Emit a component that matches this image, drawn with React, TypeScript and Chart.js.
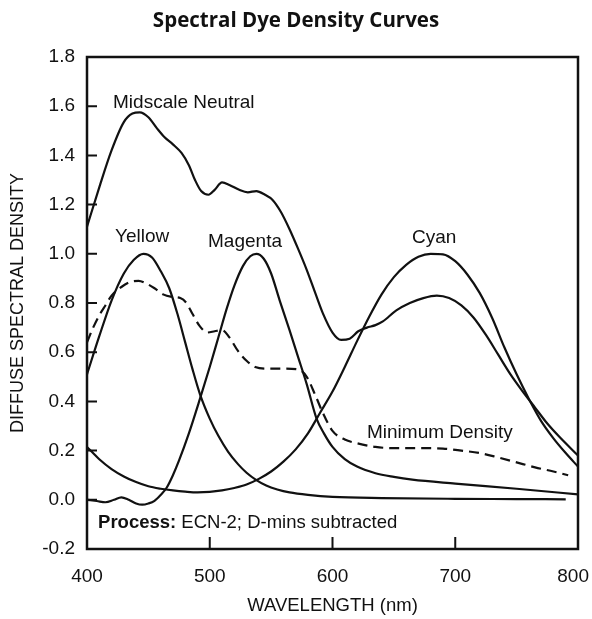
import React, { useEffect, useRef } from "react";
import { Chart, registerables } from "chart.js";

Chart.register(...registerables);

// ---- Data (wavelength in nm, diffuse spectral density) ----
const neutralNm = [400, 410, 420, 430, 437, 443, 450, 457, 463, 470, 477, 483, 488, 493, 499, 504, 510, 516, 524, 531, 538, 545, 551, 558, 565, 572, 579, 586, 592, 600, 607, 614, 621, 628, 635, 641, 652, 663, 674, 685, 695, 705, 715, 725, 735, 745, 755, 765, 775, 785, 800];
const neutralD = [1.11, 1.27, 1.42, 1.535, 1.57, 1.575, 1.555, 1.51, 1.475, 1.445, 1.41, 1.36, 1.3, 1.255, 1.24, 1.26, 1.29, 1.28, 1.26, 1.25, 1.255, 1.24, 1.22, 1.17, 1.1, 1.02, 0.935, 0.84, 0.76, 0.68, 0.65, 0.655, 0.685, 0.7, 0.71, 0.725, 0.77, 0.8, 0.82, 0.83, 0.82, 0.79, 0.74, 0.67, 0.59, 0.51, 0.44, 0.375, 0.31, 0.255, 0.18];

const yellowNm = [400, 410, 420, 430, 438, 446, 453, 460, 467, 474, 480, 486, 492, 500, 507, 515, 523, 530, 538, 546, 555, 565, 580, 600, 640, 700, 750, 790];
const yellowD = [0.51, 0.665, 0.81, 0.92, 0.975, 1.0, 0.985, 0.93, 0.86, 0.75, 0.64, 0.53, 0.43, 0.33, 0.26, 0.195, 0.145, 0.11, 0.08, 0.058, 0.042, 0.03, 0.02, 0.012, 0.007, 0.004, 0.003, 0.002];

const magentaNm = [400, 408, 415, 422, 428, 434, 440, 445, 450, 455, 460, 465, 470, 475, 483, 492, 500, 507, 514, 520, 527, 533, 538, 544, 550, 557, 565, 572, 579, 587, 593, 600, 610, 620, 635, 650, 665, 700, 750, 800];
const magentaD = [0.0, -0.005, -0.01, 0.0, 0.01, 0.0, -0.015, -0.02, -0.015, -0.004, 0.02, 0.05, 0.1, 0.16, 0.27, 0.41, 0.54, 0.66, 0.78, 0.87, 0.95, 0.99, 1.0, 0.98, 0.92, 0.81, 0.69, 0.58, 0.47, 0.33, 0.27, 0.215, 0.165, 0.135, 0.108, 0.093, 0.082, 0.066, 0.045, 0.022];

const cyanNm = [400, 410, 420, 430, 440, 450, 460, 470, 480, 490, 500, 510, 520, 530, 540, 550, 560, 570, 580, 590, 600, 610, 620, 630, 640, 650, 660, 670, 680, 690, 700, 710, 720, 730, 740, 750, 760, 770, 780, 790, 800];
const cyanD = [0.215, 0.165, 0.125, 0.095, 0.072, 0.055, 0.045, 0.038, 0.033, 0.03, 0.032, 0.038, 0.048, 0.062, 0.085, 0.115, 0.155, 0.205, 0.27, 0.355, 0.44, 0.54, 0.645, 0.745, 0.835, 0.905, 0.955, 0.988, 1.0, 0.998, 0.97, 0.915, 0.84, 0.74, 0.62, 0.51, 0.41, 0.32, 0.25, 0.19, 0.135];

const minDensityNm = [400, 405, 410, 415, 420, 428, 435, 442, 448, 455, 462, 469, 476, 481, 486, 492, 498, 504, 510, 516, 523, 530, 537, 548, 560, 572, 579, 586, 592, 600, 610, 620, 635, 650, 670, 690, 705, 720, 735, 750, 765, 780, 792];
const minDensityD = [0.64, 0.7, 0.75, 0.79, 0.83, 0.865, 0.885, 0.89, 0.88, 0.86, 0.835, 0.825, 0.82, 0.8, 0.755, 0.705, 0.68, 0.685, 0.69, 0.66, 0.605, 0.565, 0.54, 0.533, 0.533, 0.53, 0.5, 0.425, 0.355, 0.28, 0.245, 0.23, 0.215, 0.21, 0.21, 0.208, 0.2, 0.19, 0.172, 0.152, 0.132, 0.115, 0.1];

const xTickValues = [400, 500, 600, 700, 800];
const yTickValues = [-0.2, 0, 0.2, 0.4, 0.6, 0.8, 1.0, 1.2, 1.4, 1.6, 1.8];
const xInnerTicks = [500, 600, 700];
const yInnerTicks = [0, 0.2, 0.4, 0.6, 0.8, 1.0, 1.2, 1.4, 1.6];

const chartTitle = "Spectral Dye Density Curves";
const xTitle = "WAVELENGTH (nm)";
const yTitle = "DIFFUSE SPECTRAL DENSITY";

// Curve labels anchored in data coordinates (left edge, baseline)
const curveLabels = [
  { text: "Midscale Neutral", nm: 421.2, d: 1.593 },
  { text: "Yellow", nm: 422.8, d: 1.049 },
  { text: "Magenta", nm: 498.6, d: 1.027 },
  { text: "Cyan", nm: 664.8, d: 1.043 },
  { text: "Minimum Density", nm: 628.1, d: 0.251 },
];
const noteBold = "Process:";
const noteText = " ECN-2; D-mins subtracted";
const noteAnchor = { nm: 409, d: -0.114 };

const SANS = '"Liberation Sans", Arial, Helvetica, sans-serif';
const INK = "#111111";

function pts(xs: number[], ys: number[]) {
  return xs.map((x, i) => ({ x, y: ys[i] }));
}

const framePlugin = {
  id: "frameAndNotes",
  afterDatasetsDraw(chart: any) {
    const { ctx, chartArea } = chart;
    const xs = chart.scales.x;
    const ys = chart.scales.y;
    ctx.save();
    ctx.strokeStyle = INK;
    ctx.lineWidth = 2.5;
    ctx.strokeRect(chartArea.left, chartArea.top, chartArea.right - chartArea.left, chartArea.bottom - chartArea.top);
    ctx.lineWidth = 2;
    ctx.beginPath();
    yInnerTicks.forEach((v) => {
      const py = ys.getPixelForValue(v);
      ctx.moveTo(chartArea.left, py);
      ctx.lineTo(chartArea.left + 10, py);
    });
    xInnerTicks.forEach((v) => {
      const px = xs.getPixelForValue(v);
      ctx.moveTo(px, chartArea.bottom);
      ctx.lineTo(px, chartArea.bottom - 12);
    });
    ctx.stroke();

    ctx.fillStyle = INK;

    // x tick labels (kept inside the canvas at the right end)
    ctx.font = `19px ${SANS}`;
    ctx.textAlign = "center";
    ctx.textBaseline = "middle";
    xTickValues.forEach((v) => {
      const label = String(v);
      const half = ctx.measureText(label).width / 2;
      let px = xs.getPixelForValue(v);
      px = Math.min(px, chart.width - 3 - half);
      ctx.fillText(label, px, chartArea.bottom + 28);
    });

    ctx.textBaseline = "alphabetic";
    ctx.textAlign = "left";
    ctx.font = `19px ${SANS}`;
    curveLabels.forEach((l) => {
      ctx.fillText(l.text, xs.getPixelForValue(l.nm), ys.getPixelForValue(l.d));
    });
    const nx = xs.getPixelForValue(noteAnchor.nm);
    const ny = ys.getPixelForValue(noteAnchor.d);
    ctx.font = `bold 18.5px ${SANS}`;
    ctx.fillText(noteBold, nx, ny);
    const w = ctx.measureText(noteBold).width;
    ctx.font = `18.5px ${SANS}`;
    ctx.fillText(noteText, nx + w, ny);

    // chart title
    ctx.font = `bold 20.5px "Open Sans", "Liberation Sans", sans-serif`;
    ctx.textAlign = "center";
    ctx.textBaseline = "middle";
    ctx.fillText(chartTitle, chart.width / 2, 21);
    ctx.restore();
  },
};

export default function App() {
  const ref = useRef<HTMLCanvasElement | null>(null);
  useEffect(() => {
    if (!ref.current) return;
    const line = (data: any, dashed = false) => ({
      data,
      borderColor: INK,
      borderWidth: 2.2,
      borderDash: dashed ? [10, 6] : [],
      pointRadius: 0,
      fill: false,
      cubicInterpolationMode: "monotone" as const,
    });
    const chart = new Chart(ref.current, {
      type: "line",
      data: {
        datasets: [
          { label: "Midscale Neutral", ...line(pts(neutralNm, neutralD)) },
          { label: "Yellow", ...line(pts(yellowNm, yellowD)) },
          { label: "Magenta", ...line(pts(magentaNm, magentaD)) },
          { label: "Cyan", ...line(pts(cyanNm, cyanD)) },
          { label: "Minimum Density", ...line(pts(minDensityNm, minDensityD), true) },
        ],
      },
      options: {
        responsive: false,
        animation: false,
        layout: { padding: { top: 57, right: 14, left: 0, bottom: 0 } },
        plugins: { legend: { display: false }, tooltip: { enabled: false }, title: { display: false } },
        scales: {
          x: {
            type: "linear",
            min: 400,
            max: 800,
            afterFit: (s: any) => {
              s.height = 70;
              s.paddingLeft = 0;
              s.paddingRight = 0;
            },
            afterBuildTicks: (s: any) => { s.ticks = xTickValues.map((v) => ({ value: v })); },
            grid: { display: false, drawTicks: false },
            border: { display: false },
            ticks: { display: false },
            title: {
              display: true,
              text: xTitle,
              color: INK,
              font: { family: SANS, size: 18.5 },
              padding: { top: 0, bottom: 2.4 },
            },
          },
          y: {
            type: "linear",
            min: -0.2,
            max: 1.8,
            afterFit: (s: any) => {
              s.width = 87;
              s.paddingTop = 0;
              s.paddingBottom = 0;
            },
            afterBuildTicks: (s: any) => { s.ticks = yTickValues.map((v) => ({ value: v })); },
            grid: { display: false, drawTicks: false },
            border: { display: false },
            ticks: {
              color: INK,
              font: { family: SANS, size: 19 },
              padding: 12,
              callback: (v: any) => Number(v).toFixed(1),
            },
            title: {
              display: true,
              text: yTitle,
              color: INK,
              font: { family: SANS, size: 18 },
              padding: { top: 7, bottom: 0 },
            },
          },
        },
      },
      plugins: [framePlugin],
    });
    return () => chart.destroy();
  }, []);
  return (
    <div style={{ position: "absolute", left: 0, top: 0, width: 592, height: 619, background: "#fff" }}>
      <canvas ref={ref} width={592} height={619} style={{ display: "block" }} />
    </div>
  );
}
